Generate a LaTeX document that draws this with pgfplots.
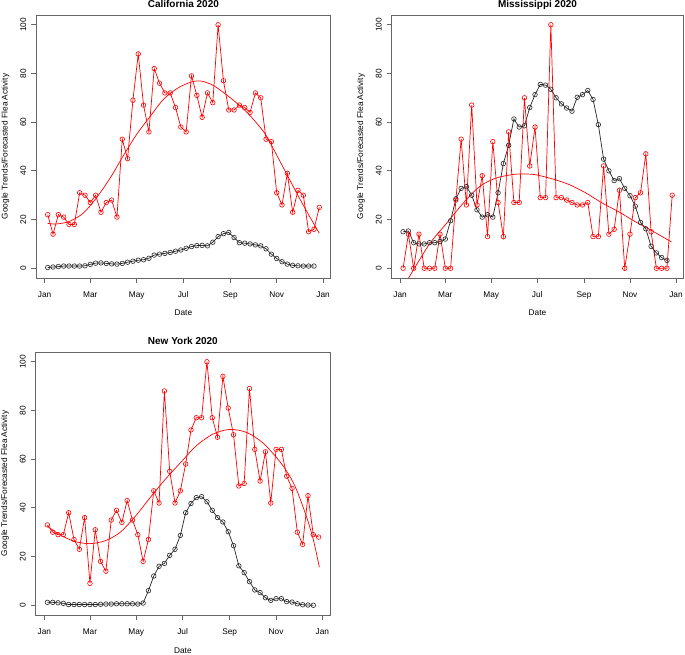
\documentclass[border=0pt]{standalone}
\usepackage{fontspec}
\setmainfont{Liberation Sans}
\usepackage{pgfplots}
\usepackage{pgfplotstable}
\pgfplotsset{compat=1.18}
\newcommand\rf{\fontsize{8.3}{10}\selectfont}

\pgfplotstableread{
day trend flea
4 22 0.3
11 14 0.5
18 22 0.7
25 21 0.9
32 18 0.9
39 18 0.9
46 31 0.9
53 30 1.0
60 27 1.6
67 30 2.1
74 23 2.2
81 27 2.0
88 28 1.8
95 21 1.7
102 53 2.0
109 45 2.5
116 69 2.9
123 88 3.3
130 67 3.5
137 56 4.1
144 82 5.4
151 76 5.8
158 72 6.1
165 72 6.5
172 66 7.0
179 58 7.5
186 56 8.2
193 79 8.9
200 71 9.3
207 62 9.4
214 72 9.2
221 68 10.7
228 100 13.0
235 77 14.2
242 65 14.7
249 65 12.6
256 67 10.5
263 66 10.3
270 64 10.0
277 72 9.6
284 70 9.2
291 53 8.0
298 52 5.8
305 31 4.0
312 26 2.7
319 39 1.7
326 23 1.2
333 32 1.0
340 30 0.9
347 15 0.9
354 16 0.9
361 25 nan
}\CAdata

\pgfplotstableread{
day fit
4 18.4
16 18.2
33 19.3
51 22.7
68 28.9
86 37
103 46
121 55
139 62.5
156 69.3
174 73.8
191 76.3
205 76.9
222 75.0
244 70.0
266 64
288 56
299 50
310 43.5
332 30.5
346 22.5
361 14.4
}\CAfit

\pgfplotstableread{
day trend flea
4 0 15
11 14 15.3
18 0 10.5
25 14 10
32 0 10
39 0 10.5
46 0 10.5
53 14 11
60 0 12
67 0 19.5
74 28 28.5
81 53 32.8
88 26 33.5
95 67 30
102 26 24
109 38 21
116 13 22
123 52 21
130 27 31
137 13 43
144 56 50.5
151 27 61.3
158 27 58
165 70 58.5
172 42 66
179 58 71.3
186 29 75.5
193 29 75.2
200 100 73.5
207 29 70
214 29 67.5
221 28 65.8
228 27 64.5
235 26 70.2
242 26 71.3
249 27 73
256 13 69.3
263 13 59
270 42 44.8
277 14 40
284 16 36
291 32 36.8
298 0 32.8
305 14 29.8
312 29 25.5
319 31 18.8
326 47 16.2
333 15 9
340 0 6.3
347 0 4.4
354 0 3.2
361 30 nan
}\MSdata

\pgfplotstableread{
day fit
4 -7.8
12 -3.6
20 0.5
40 10.4
62 18.6
84 26.8
106 33.7
128 37.1
150 38.5
165 38.7
180 38.4
202 36.7
224 34.4
246 31
268 26.8
290 23.2
311 19.3
333 15.6
360 10.8
}\MSfit

\pgfplotstableread{
day trend flea
4 33 1.2
11 30 1.2
18 29 1.0
25 29 0.8
32 38 0.3
39 27 0.3
46 23 0.3
53 36 0.3
60 9 0.3
67 31 0.3
74 18 0.4
81 14 0.5
88 35 0.5
95 39 0.6
102 34 0.6
109 43 0.6
116 35 0.6
123 29 0.5
130 18 0.9
137 27 6
144 47 12
151 42 16
158 88 17.2
165 55 20.5
172 42 23
179 47 28.7
186 58 38
193 72 41.8
200 77 44.2
207 77 44.6
214 100 42.5
221 77 39
228 69 36
235 94 34.2
242 81 30.2
249 70 24.5
256 49 16.2
263 50 13.4
270 89 9.7
277 64 6.3
284 51 5.2
291 63 3.1
298 42 2.0
305 64 2.7
312 64 2.7
319 53 1.5
326 48 1.3
333 30 0.6
340 25 0.2
347 45 0.1
354 29 0.0
361 28 nan
}\NYdata

\pgfplotstableread{
day fit
4 32.5
20 29
40 26.2
60 25.3
80 26.5
100 30
121 37
140 44.5
160 52
182 59.5
200 65.5
222 70.3
244 72.2
266 71
288 66.6
310 59
323 53
332 47.4
345 36.4
354 27
362 15.6
}\NYfit

\pgfplotsset{
  rpanel/.style={
    scale only axis, height=263pt,
    xmin=-11.4, xmax=376, ymin=-4, ymax=104,
    xtick={0,60,121,182,244,305,366},
    xticklabels={Jan,Mar,May,Jul,Sep,Nov,Jan},
    ytick={0,20,40,60,80,100},
    /pgf/number format/assume math mode=true,
    tick pos=left, tick align=outside, major tick length=5pt,
    axis line style={draw=black!60, line width=0.75pt},
    tick style={draw=black!60, line width=0.75pt},
    ticklabel style={font=\rf},
    xticklabel style={anchor=base, inner sep=0pt},
    xticklabel shift=14.5pt,
    yticklabel style={rotate=90, anchor=base, inner sep=0pt},
    yticklabel shift=5pt,
    every axis title/.style={at={(rel axis cs:0.5,1)}, anchor=base, yshift=7.7pt, font=\bfseries\fontsize{10}{12}\selectfont},
    every axis x label/.style={at={(rel axis cs:0.5,0)}, anchor=base, yshift=-38pt, font=\rf},
    every axis y label/.style={at={(rel axis cs:0,0.5)}, anchor=base, xshift=-28.5pt, rotate=90, font=\rf},
    xlabel={Date},
    ylabel={Google Trends/Forecasted Flea Activity},
    anchor=south west,
  },
  redser/.style={red, line width=0.7pt, mark=o, mark size=2.3pt, mark options={solid, line width=0.6pt}},
  blkser/.style={black!85, line width=0.7pt, mark=o, mark size=2.3pt, mark options={solid, line width=0.6pt}},
  fitser/.style={red, line width=0.7pt, smooth, no markers},
}

\begin{document}
\begin{tikzpicture}
\useasboundingbox (0,0) rectangle (685pt,654pt);
\begin{axis}[rpanel, at={(36pt,376pt)}, width=294.7pt, title={California 2020}]
\addplot[blkser] table[x=day, y=flea] {\CAdata};
\addplot[redser] table[x=day, y=trend] {\CAdata};
\addplot[fitser] table[x=day, y=fit] {\CAfit};
\end{axis}
\begin{axis}[rpanel, at={(391.5pt,376pt)}, width=292pt, title={Mississippi 2020}]
\addplot[blkser] table[x=day, y=flea] {\MSdata};
\addplot[redser] table[x=day, y=trend] {\MSdata};
\addplot[fitser] table[x=day, y=fit] {\MSfit};
\end{axis}
\begin{axis}[rpanel, at={(35.7pt,39pt)}, width=294.3pt, title={New York 2020}]
\addplot[blkser] table[x=day, y=flea] {\NYdata};
\addplot[redser] table[x=day, y=trend] {\NYdata};
\addplot[fitser] table[x=day, y=fit] {\NYfit};
\end{axis}
\end{tikzpicture}
\end{document}
